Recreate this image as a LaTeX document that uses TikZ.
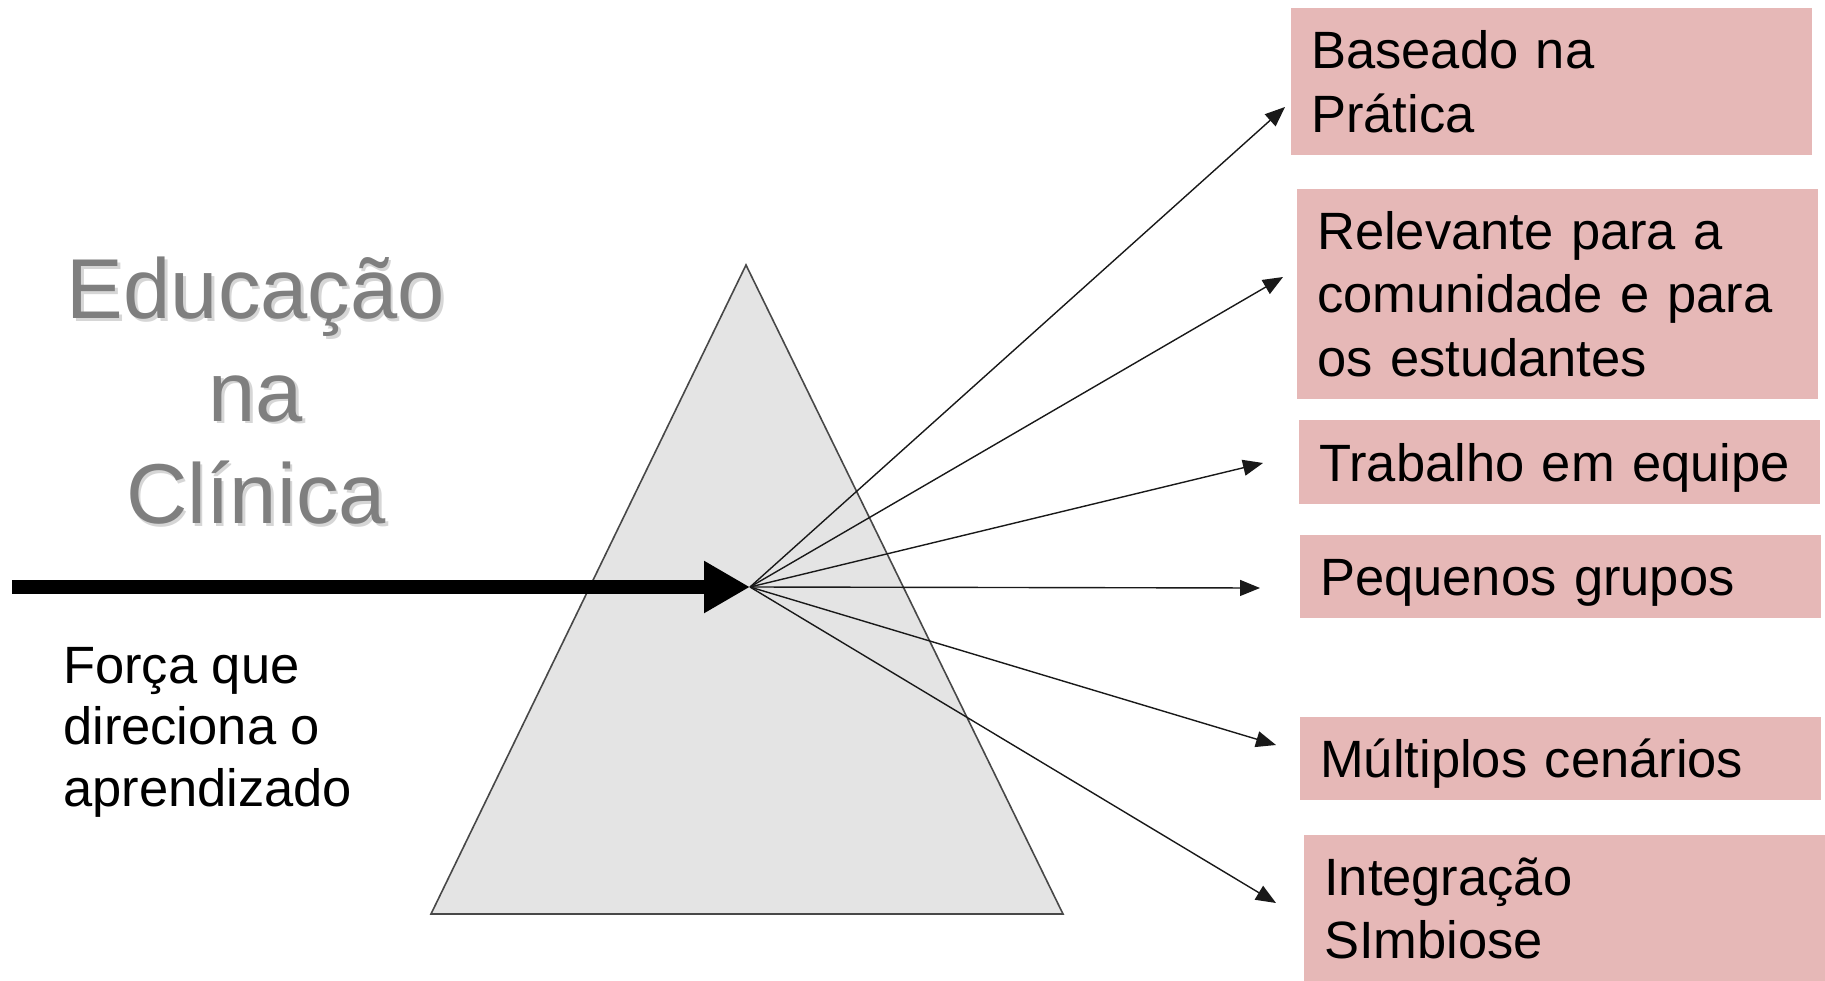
\documentclass[tikz,border=0pt]{standalone}
\usepackage{fontspec}
\setmainfont{Liberation Sans}
\usetikzlibrary{arrows.meta}
\definecolor{rose}{HTML}{E6B8B7}
\definecolor{prismgray}{HTML}{E4E4E4}
\definecolor{edge}{HTML}{484848}
\definecolor{titlegray}{HTML}{7F7F7F}
\definecolor{shade}{HTML}{D6D6D6}
\newcommand\tagfont{\fontsize{52.5}{63.5}\selectfont}
\newcommand\titlefont{\fontsize{85}{102.5}\selectfont}
\tikzset{
  prism/.style={fill=prismgray, draw=edge, line width=1.6pt, line join=miter},
  beam/.style={draw=black, line width=14pt, -{Triangle[length=46pt,width=49pt]}},
  ray/.style={draw=black!90, line width=1.4pt, -{Triangle[length=20pt,width=16pt]}},
  tag/.style={fill=rose, anchor=north west, inner xsep=20pt, inner ysep=0pt,
    minimum width=521pt, text width=481pt, align=left, font=\tagfont},
  oneline/.style={text height=38pt, text depth=0pt},
  ttl/.style={text=titlegray, align=center, font=\titlefont, inner sep=0pt},
  ttlshade/.style={ttl, text=shade},
  lab/.style={text=black, align=left, font=\fontsize{52.5}{61.5}\selectfont,
    inner sep=0pt, anchor=west},
}
\begin{document}
\begin{tikzpicture}[x=1pt,y=-1pt]
  \path[use as bounding box, fill=white] (0,0) rectangle (1825,981);

  % prism
  \coordinate (apex) at (746,265);
  \coordinate (bl) at (431,914);
  \coordinate (br) at (1063,914);
  \draw[prism] (apex) -- (bl) -- (br) -- cycle;

  % title and driving force
  \node[ttlshade] (titleshadow) at (258.5,393.5) {Educação\\na\\Clínica};
  \node[ttl] (title) at (256,391) {Educação\\na\\Clínica};
  \node[lab] (force) at (63,732) {Força que\\direciona o\\aprendizado};

  % outcomes
  \node[tag, minimum height=147pt] (pratica) at (1291,8) {Baseado na\\Prática};
  \node[tag, minimum height=210pt] (relevante) at (1297,189) {Relevante para a\\comunidade e para\\os estudantes};
  \node[tag, oneline, minimum height=84pt] (equipe) at (1299,420) {Trabalho em equipe};
  \node[tag, oneline, minimum height=83pt] (grupos) at (1300,535) {Pequenos grupos};
  \node[tag, oneline, minimum height=83pt] (cenarios) at (1300,717) {Múltiplos cenários};
  \node[tag, minimum height=146pt] (simbiose) at (1304,835) {Integração\\SImbiose};

  % beam into the prism
  \coordinate (src) at (12,587);
  \coordinate (focus) at (750,587);
  \draw[beam] (src) -- (focus);

  % rays out of the prism
  \coordinate (t1) at (1285,107);
  \coordinate (t2) at (1283,277);
  \coordinate (t3) at (1263,463);
  \coordinate (t4) at (1260,588);
  \coordinate (t5) at (1276,745);
  \coordinate (t6) at (1276,903);
  \draw[ray] (focus) -- (t1);
  \draw[ray] (focus) -- (t2);
  \draw[ray] (focus) -- (t3);
  \draw[ray] (focus) -- (t4);
  \draw[ray] (focus) -- (t5);
  \draw[ray] (focus) -- (t6);
\end{tikzpicture}
\end{document}
